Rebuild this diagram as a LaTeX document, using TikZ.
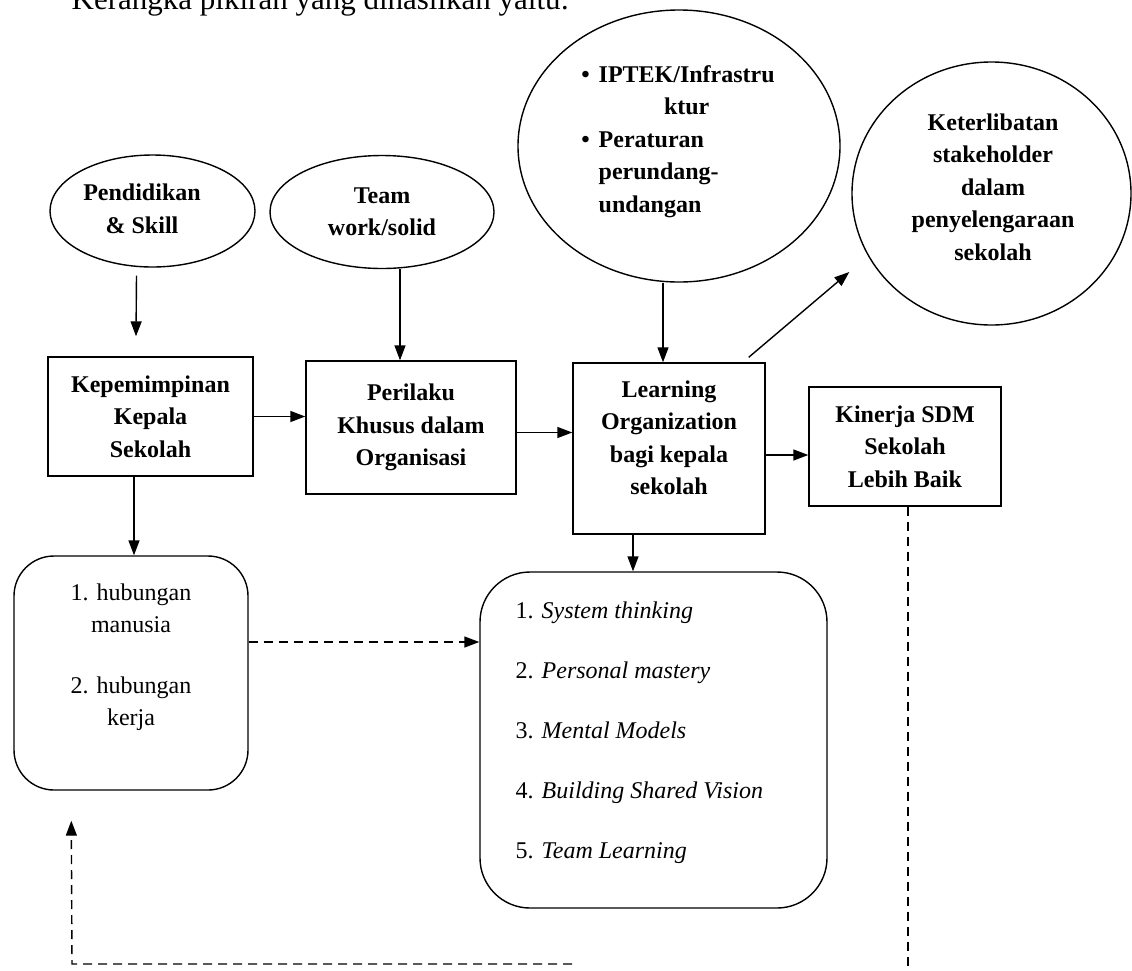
\documentclass[tikz,border=0pt]{standalone}
\usepackage{fontspec}
\setmainfont{Liberation Serif}
\usetikzlibrary{shapes.geometric,arrows.meta,calc}
\begin{document}
\begin{tikzpicture}[x=1pt,y=-1pt,
  line width=1.4pt,
  bt/.style={font=\fontsize{24}{32.5}\selectfont\bfseries, align=center, inner sep=0},
  rt/.style={font=\fontsize{24}{32}\selectfont, align=center, inner sep=0},
  itl/.style={font=\fontsize{24}{30}\selectfont, anchor=base west, inner sep=0},
  ell/.style={draw, ellipse, inner sep=0},
  boxr/.style={draw, rectangle, inner sep=0},
  rbox/.style={draw, rectangle, inner sep=0},
  arr/.style={-{Triangle[length=15pt,width=11pt]}},
  dsh/.style={dash pattern=on 9pt off 6pt},
]
\useasboundingbox (0,0) rectangle (1132,970);

% title
\node[anchor=base west, inner sep=0, font=\fontsize{31}{36}\selectfont] (title) at (71,9) {Kerangka pikiran yang dihasilkan yaitu:};

% ellipses / circles
\node[ell, minimum width=205pt, minimum height=112pt] (e1) at (152.5,211) {};
\node[bt] (t1) at (142,209) {Pendidikan\\\& Skill};
\node[ell, bt, minimum width=224pt, minimum height=113pt] (e2) at (382,212) {Team\\work/solid};
\node[ell, minimum width=322pt, minimum height=272pt] (c3) at (679,146) {};
\node[bt] (t3c) at (678,140.5) {\begin{tabular}{@{}l@{\hspace{9pt}}l@{}}\textbullet & IPTEK/Infrastru\\ & \multicolumn{1}{c}{ktur}\\ \textbullet & Peraturan\\ & perundang-\\ & undangan\end{tabular}};
\node[ell, minimum width=279pt, minimum height=263pt] (c4) at (991.5,193.5) {};
\node[bt] (t4c) at (993,187) {Keterlibatan\\stakeholder\\dalam\\penyelengaraan\\sekolah};

% boxes
\node[boxr, bt, minimum width=205pt, minimum height=119pt] (b1) at (150.5,416.5) {Kepemimpinan\\Kepala\\Sekolah};
\node[boxr, bt, minimum width=210pt, minimum height=133pt] (b2) at (411,427.5) {Perilaku\\Khusus dalam\\Organisasi};
\node[boxr, minimum width=192pt, minimum height=171pt] (b3) at (669,448.5) {};
\node[bt] (t3) at (669,438) {Learning\\Organization\\bagi kepala\\sekolah};
\node[boxr, bt, minimum width=192pt, minimum height=119pt] (b4) at (905,446.5) {Kinerja SDM\\Sekolah\\Lebih Baik};

% rounded boxes
\node[rbox, rounded corners=40pt, minimum width=234pt, minimum height=234pt] (A) at (131,673) {};
\node[rt] (tA) at (131,657) {1. hubungan\\manusia\\[29pt]2. hubungan\\kerja};
\node[rbox, rounded corners=50pt, minimum width=347pt, minimum height=336pt] (B) at (653.5,740) {};
\node[itl] (l1) at (515,618) {1. \textit{System thinking}};
\node[itl] (l2) at (515,678) {2. \textit{Personal mastery}};
\node[itl] (l3) at (515,738) {3. \textit{Mental Models}};
\node[itl] (l4) at (515,798) {4. \textit{Building Shared Vision}};
\node[itl] (l5) at (515,858) {5. \textit{Team Learning}};

% helper points
\coordinate (p12) at (b1.east);
\coordinate (p23) at ($(b2.east)+(0,5)$);
\coordinate (p34) at ($(b3.east)+(0,6.5)$);
\coordinate (pAB) at ($(A.east)+(0,-31)$);

% arrows
\draw[arr] ($(e1.south)+(-16,8)$) -- ($(b1.north)+(-14.5,-20)$);
\draw[arr] ($(e2.south)+(18,0)$) -- ($(b2.north)+(-11,0)$);
\draw[arr] ($(c3.south)+(-16,0)$) -- ($(b3.north)+(-6,0)$);
\draw[arr] ($(b3.north east)+(-17,-5)$) -- ($(c4.west)+(-2,78.5)$);
\draw[arr] (p12) -- (p12 -| b2.west);
\draw[arr] (p23) -- (p23 -| b3.west);
\draw[arr] (p34) -- (p34 -| b4.west);
\draw[arr] ($(b1.south)+(-16.5,0)$) -- ($(A.north)+(3,0)$);
\draw[arr] ($(b3.south)+(-36,0)$) -- ($(B.north)+(-20.5,0)$);
\draw[arr, dsh] (pAB) -- (pAB -| B.west);

% feedback dashed
\coordinate (fbEnd) at (908,972);
\coordinate (fbL) at (572,964);
\coordinate (fbC) at (72,964);
\coordinate (fbTip) at ($(A.south west)+(58,30)$);
\draw[dsh] ($(b4.south)+(3,0)$) -- (fbEnd);
\draw[arr, dsh] (fbL) -- (fbC) -- (fbTip);
\end{tikzpicture}
\end{document}
